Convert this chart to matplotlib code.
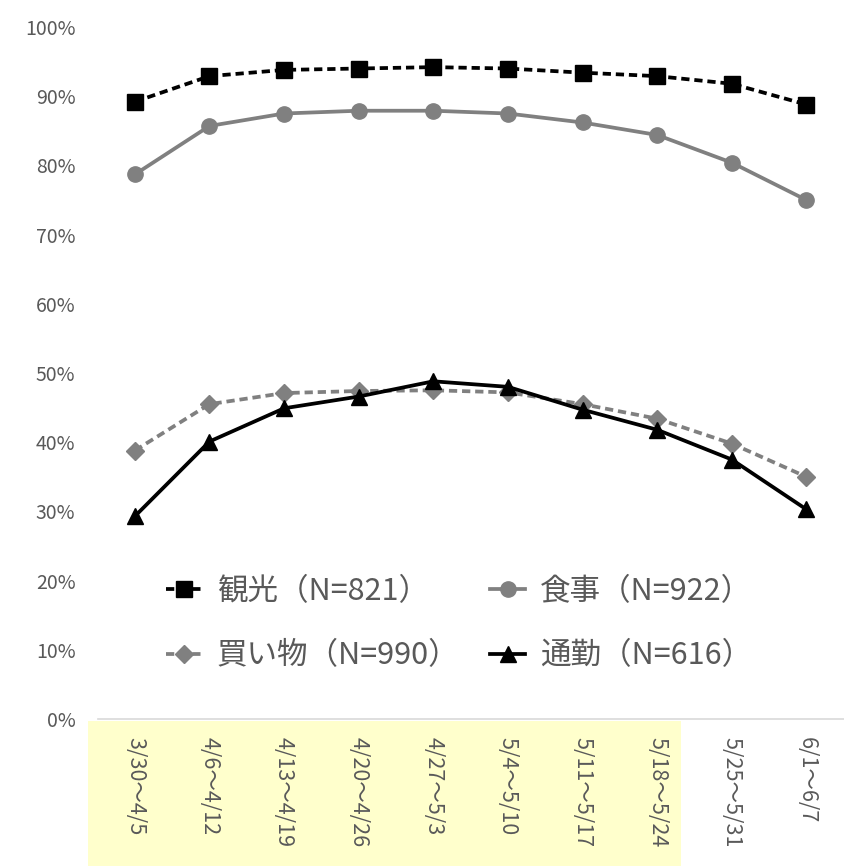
import numpy as np
import matplotlib
matplotlib.use('Agg')
import matplotlib.pyplot as plt
from matplotlib.patches import Rectangle
import matplotlib.transforms as mtransforms

plt.rcParams['font.family'] = ['Noto Sans CJK JP', 'DejaVu Sans']

# ─── データ ───
weeks = ['3/30～4/5', '4/6～4/12', '4/13～4/19', '4/20～4/26', '4/27～5/3',
         '5/4～5/10', '5/11～5/17', '5/18～5/24', '5/25～5/31', '6/1～6/7']
kanko    = [89.2, 92.9, 93.8, 94.0, 94.2, 94.0, 93.4, 92.9, 91.8, 88.8]
shokuji  = [78.7, 85.7, 87.5, 87.9, 87.9, 87.5, 86.2, 84.4, 80.4, 75.0]
kaimono  = [38.8, 45.5, 47.1, 47.4, 47.5, 47.2, 45.5, 43.4, 39.8, 35.0]
tsukin   = [29.3, 40.1, 44.9, 46.6, 48.8, 48.0, 44.7, 41.8, 37.5, 30.3]
labels   = ['観光（N=821）', '食事（N=922）', '買い物（N=990）', '通勤（N=616）']
n_highlight = 8   # 黄色でハイライトされた週の数

C_TXT = '#595959'
C_GRAY = '#808080'

fig = plt.figure(figsize=(8.45, 8.66), dpi=100)
ax = fig.add_axes([97.6/845, (866-719)/866, 746/845, 692/866])

x = np.arange(len(weeks))
h1, = ax.plot(x, kanko, color='black', lw=2.7, ls=(0, (2.2, 1.3)), marker='s', ms=11,
              label=labels[0], zorder=4)
h2, = ax.plot(x, shokuji, color=C_GRAY, lw=2.7, marker='o', ms=11,
              label=labels[1], zorder=3)
h3, = ax.plot(x, kaimono, color=C_GRAY, lw=2.7, ls=(0, (2.2, 1.3)), marker='D', ms=9,
              label=labels[2], zorder=3)
h4, = ax.plot(x, tsukin, color='black', lw=2.7, marker='^', ms=12,
              label=labels[3], zorder=4)

ax.set_xlim(-0.5, len(weeks) - 0.5)
ax.set_ylim(0, 100)
ax.set_yticks(np.arange(0, 101, 10))
ax.set_yticklabels([f'{v}%' for v in range(0, 101, 10)])
ax.set_xticks(x)
ax.set_xticklabels(weeks, rotation=270, va='top', ha='center')
ax.tick_params(axis='y', length=0, labelsize=14, labelcolor=C_TXT, pad=16)
ax.tick_params(axis='x', length=0, labelsize=15.5, labelcolor=C_TXT, pad=13)
for s in ['top', 'right', 'left']:
    ax.spines[s].set_visible(False)
ax.spines['bottom'].set_color('#D9D9D9')
ax.spines['bottom'].set_linewidth(1.2)

# 黄色ハイライト（軸ラベル領域の背景）
trans = mtransforms.blended_transform_factory(ax.transData, fig.transFigure)
hl_start, hl_end = -0.63, n_highlight - 0.68
fig.patches.append(Rectangle((hl_start, 0), hl_end - hl_start, (866-721)/866,
                             transform=trans, facecolor='#FFFFCC',
                             edgecolor='none', zorder=-1))

# 凡例は行方向に並べる（観光・食事 / 買い物・通勤）
ax.legend([h1, h3, h2, h4], [labels[0], labels[2], labels[1], labels[3]],
          ncol=2, loc='center', bbox_to_anchor=(0.485, 0.138),
          frameon=False, fontsize=22, labelcolor=C_TXT,
          handlelength=1.15, handletextpad=0.5, columnspacing=1.0,
          labelspacing=1.1)

plt.savefig('out.png', dpi=100)
